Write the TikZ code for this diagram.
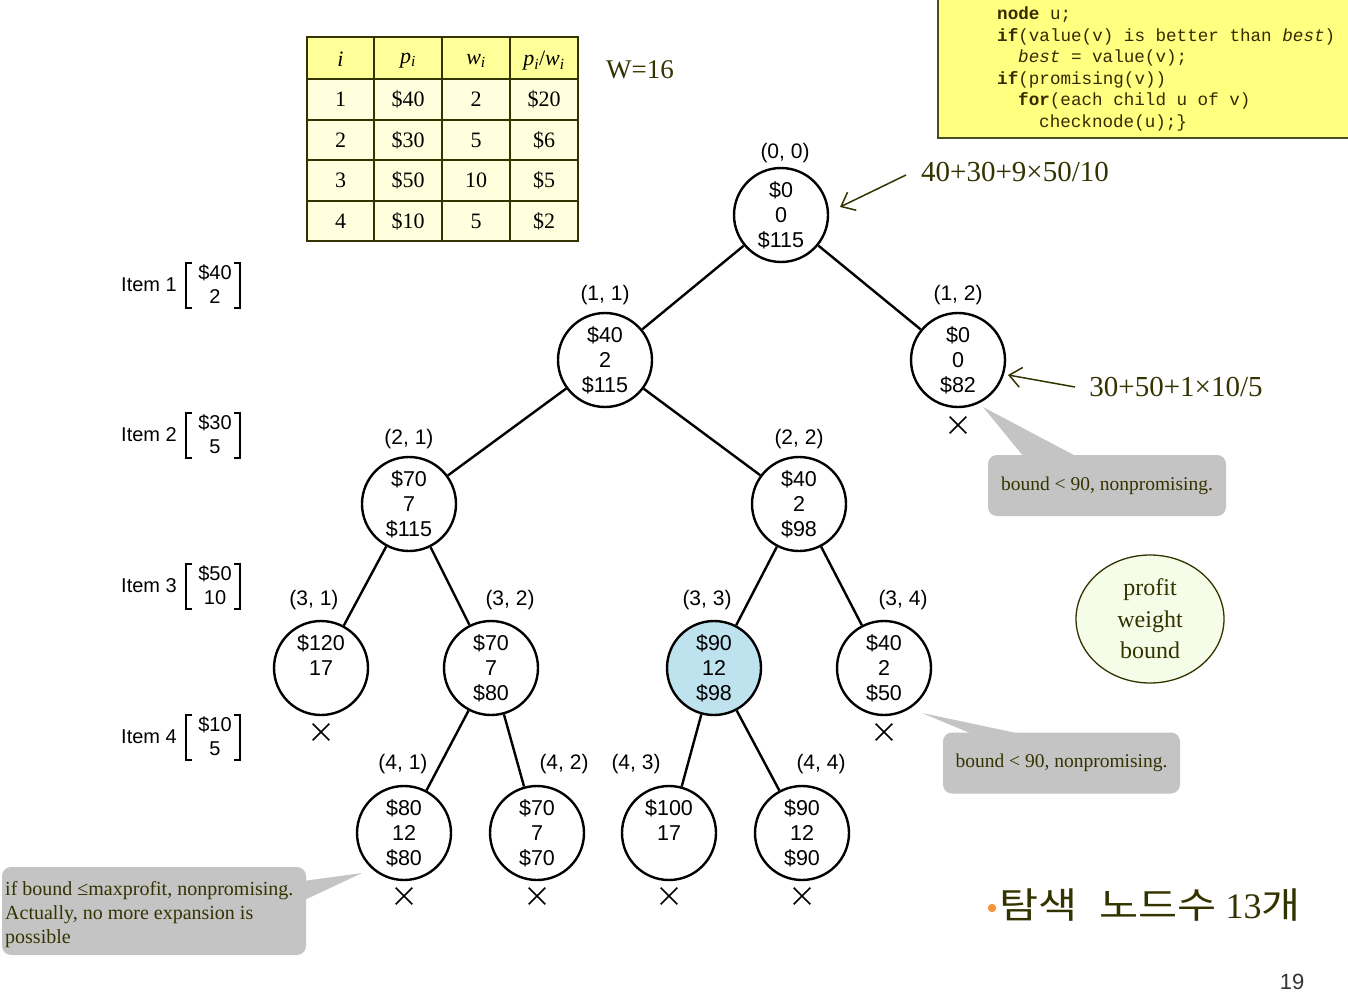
\documentclass[tikz,border=0pt]{standalone}
\usepackage{fontspec}
\setmainfont{Liberation Serif}
\setsansfont{Liberation Sans}
\setmonofont{Liberation Mono}
\newfontfamily\kofont[FakeStretch=1.18]{Noto Sans CJK KR}
\usetikzlibrary{arrows.meta,shapes.geometric,shapes.misc}
\definecolor{olive}{HTML}{333300}
\definecolor{codetxt}{HTML}{3A2800}
\definecolor{hdryel}{HTML}{FFFF99}
\definecolor{bodyyel}{HTML}{FFFFDD}
\definecolor{codeyel}{HTML}{FFFF80}
\definecolor{calloutgray}{HTML}{C4C4C4}
\definecolor{hiblue}{HTML}{BEE3EE}
\definecolor{ellfill}{HTML}{F5FCE8}
\definecolor{bulletor}{HTML}{F7923A}
\tikzset{
  tnode/.style={circle,draw=black,line width=2.4pt,minimum size=94pt,inner sep=0pt,
    align=center,font=\sffamily\fontsize{21.5}{25}\selectfont},
  poslbl/.style={font=\sffamily\fontsize{21}{21}\selectfont,inner sep=0pt},
  xmark/.style={cross out,draw=black,line width=1.7pt,minimum size=15pt,inner sep=0pt},
  edge/.style={line width=2.4pt},
  cell/.style={font=\fontsize{22}{22}\selectfont,inner sep=0pt,text=black},
  codeln/.style={font=\ttfamily\fontsize{17.6}{17.6}\selectfont,anchor=base west,inner sep=0pt,text=codetxt},
  callbox/.style={fill=calloutgray,rounded corners=9pt,inner sep=0pt,text=olive,
    font=\fontsize{19.5}{24}\selectfont},
  itemlbl/.style={font=\sffamily\fontsize{20}{20}\selectfont,inner sep=0pt},
  itemval/.style={font=\sffamily\fontsize{20}{20}\selectfont,inner sep=0pt},
  brk/.style={line width=1.6pt},
  formula/.style={font=\fontsize{29}{29}\selectfont,text=olive,inner sep=0pt},
  pointer/.style={olive,line width=1.5pt,-{Straight Barb[length=12pt,width=20pt,line width=1.5pt]}},
}
\begin{document}
\begin{tikzpicture}[x=1pt,y=-1pt]
\useasboundingbox[fill=white] (0,0) rectangle (1348,1000);

% ---------- code box ----------
\draw[fill=codeyel,draw=olive!70!gray,line width=2pt] (938,-5) rectangle (1360,138);
\node[codeln] (c1) at (997,19.5) {\textbf{node} u;};
\node[codeln] (c2) at (997,41.1) {\textbf{if}(value(v) is better than \textit{best})};
\node[codeln] (c3) at (1018,62.7) {\textit{best} = value(v);};
\node[codeln] (c4) at (997,84.3) {\textbf{if}(promising(v))};
\node[codeln] (c5) at (1018,105.9) {\textbf{for}(each child u of v)};
\node[codeln] (c6) at (1039,127.5) {checknode(u);\}};

% ---------- table ----------
\fill[hdryel] (307,37) rectangle (578,79);
\fill[bodyyel] (307,79) rectangle (578,241);
\foreach \yy in {79,120,160,201} \draw[olive,line width=2pt] (307,\yy) -- (578,\yy);
\foreach \xx in {374,442,510} \draw[olive,line width=2pt] (\xx,37) -- (\xx,241);
\draw[olive,line width=2.4pt] (307,37) rectangle (578,241);
\node[cell] (h1) at (340.5,59) {\textit{i}};
\node[cell] (h2) at (408,61) {\textit{p\textsubscript{i}}};
\node[cell] (h3) at (476,61) {\textit{w\textsubscript{i}}};
\node[cell] (h4) at (544,61) {\textit{p\textsubscript{i}}/\textit{w\textsubscript{i}}};
\node[cell] (r11) at (340.5,99.5) {1};
\node[cell] (r12) at (408,99.5) {\$40};
\node[cell] (r13) at (476,99.5) {2};
\node[cell] (r14) at (544,99.5) {\$20};
\node[cell] (r21) at (340.5,140) {2};
\node[cell] (r22) at (408,140) {\$30};
\node[cell] (r23) at (476,140) {5};
\node[cell] (r24) at (544,140) {\$6};
\node[cell] (r31) at (340.5,180.5) {3};
\node[cell] (r32) at (408,180.5) {\$50};
\node[cell] (r33) at (476,180.5) {10};
\node[cell] (r34) at (544,180.5) {\$5};
\node[cell] (r41) at (340.5,221) {4};
\node[cell] (r42) at (408,221) {\$10};
\node[cell] (r43) at (476,221) {5};
\node[cell] (r44) at (544,221) {\$2};
\node[font=\fontsize{27}{27}\selectfont,inner sep=0pt,text=olive] (W) at (640,70) {W=16};

% ---------- items ----------
\foreach \nm/\yy/\pv/\wv in {1/285/\$40/2,2/435/\$30/5,3/586/\$50/10,4/737/\$10/5}{
  \node[itemlbl] (item\nm) at (149,\yy) {Item \nm};
  \draw[brk] (192,\yy-22) -- (186,\yy-22) -- (186,\yy+23) -- (192,\yy+23);
  \draw[brk] (234,\yy-22) -- (240,\yy-22) -- (240,\yy+23) -- (234,\yy+23);
  \node[itemval] (iv\nm) at (215,\yy-12) {\pv};
  \node[itemval] (iw\nm) at (215,\yy+12) {\wv};
}

% ---------- tree nodes ----------
\node[tnode] (n00) at (781,215) {\$0\\0\\\$115};
\node[tnode] (n11) at (605,360) {\$40\\2\\\$115};
\node[tnode] (n12) at (958,360) {\$0\\0\\\$82};
\node[tnode] (n21) at (409,504) {\$70\\7\\\$115};
\node[tnode] (n22) at (799,504) {\$40\\2\\\$98};
\node[tnode] (n31) at (321,668) {\$120\\17\\\phantom{\$0}};
\node[tnode] (n32) at (491,668) {\$70\\7\\\$80};
\node[tnode,fill=hiblue] (n33) at (714,668) {\$90\\12\\\$98};
\node[tnode] (n34) at (884,668) {\$40\\2\\\$50};
\node[tnode] (n41) at (404,833) {\$80\\12\\\$80};
\node[tnode] (n42) at (537,833) {\$70\\7\\\$70};
\node[tnode] (n43) at (669,833) {\$100\\17\\\phantom{\$0}};
\node[tnode] (n44) at (802,833) {\$90\\12\\\$90};

\draw[edge] (n00) -- (n11);
\draw[edge] (n00) -- (n12);
\draw[edge] (n11) -- (n21);
\draw[edge] (n11) -- (n22);
\draw[edge] (n21) -- (n31);
\draw[edge] (n21) -- (n32);
\draw[edge] (n22) -- (n33);
\draw[edge] (n22) -- (n34);
\draw[edge] (n32) -- (n41);
\draw[edge] (n32) -- (n42);
\draw[edge] (n33) -- (n43);
\draw[edge] (n33) -- (n44);

% position labels
\node[poslbl] (l00) at (785,153) {(0, 0)};
\node[poslbl] (l11) at (605,295) {(1, 1)};
\node[poslbl] (l12) at (958,295) {(1, 2)};
\node[poslbl] (l21) at (409,439) {(2, 1)};
\node[poslbl] (l22) at (799,439) {(2, 2)};
\node[poslbl] (l31) at (314,600) {(3, 1)};
\node[poslbl] (l32) at (510,600) {(3, 2)};
\node[poslbl] (l33) at (707,600) {(3, 3)};
\node[poslbl] (l34) at (903,600) {(3, 4)};
\node[poslbl] (l41) at (403,764) {(4, 1)};
\node[poslbl] (l42) at (564,764) {(4, 2)};
\node[poslbl] (l43) at (636,764) {(4, 3)};
\node[poslbl] (l44) at (821,764) {(4, 4)};

% crosses
\node[xmark] (x12) at (958,425) {};
\node[xmark] (x31) at (321,732) {};
\node[xmark] (x34) at (884,732) {};
\node[xmark] (x41) at (404,896) {};
\node[xmark] (x42) at (537,896) {};
\node[xmark] (x43) at (669,896) {};
\node[xmark] (x44) at (802,896) {};

% ---------- formulas ----------
\node[formula] (f1) at (1015,172) {40+30+9×50/10};
\coordinate (f1s) at (906,175);
\coordinate (f1e) at (840,207);
\draw[pointer] (f1s) -- (f1e);
\node[formula] (f2) at (1176,387) {30+50+1×10/5};
\coordinate (f2s) at (1075,387);
\coordinate (f2e) at (1008,375);
\draw[pointer] (f2s) -- (f2e);

% ---------- callouts ----------
\fill[calloutgray] (983,407) -- (1028,462) -- (1087,462) -- cycle;
\node[callbox,minimum width=238pt,minimum height=61pt] (cb1) at (1107,485.5) {bound < 90, nonpromising.};
\fill[calloutgray] (922,713) -- (982,738) -- (1040,738) -- cycle;
\node[callbox,minimum width=237pt,minimum height=61pt] (cb2) at (1061.5,763) {bound < 90, nonpromising.};
\fill[calloutgray] (362,873) -- (296,882) -- (296,904) -- cycle;
\node[callbox,minimum width=304pt,minimum height=88pt] (cb3) at (154,911) {};
\node[anchor=north west,align=left,inner sep=0pt,text=olive,font=\fontsize{20}{24}\selectfont] (cb3t) at (5,881)
  {if bound ≤maxprofit, nonpromising.\\Actually, no more expansion is\\possible};

% ---------- legend ellipse ----------
\node[ellipse,draw=olive,line width=1.3pt,fill=ellfill,minimum width=148pt,minimum height=128pt,
  align=center,text=olive,font=\fontsize{24}{31.5}\selectfont] (leg) at (1150,619) {profit\\weight\\bound};

% ---------- bottom text ----------
\fill[bulletor] (992,908) circle (4.2pt);
\node[anchor=base west,inner sep=0pt,text=olive,font=\fontsize{36}{36}\selectfont] (cnt) at (999,918)
  {{\kofont 탐색}\hspace{22pt}{\kofont 노드수} 13{\kofont 개}};
\node[font=\sffamily\fontsize{22}{22}\selectfont,text=black!80,inner sep=0pt] (pg) at (1292,982) {19};
\end{tikzpicture}
\end{document}
